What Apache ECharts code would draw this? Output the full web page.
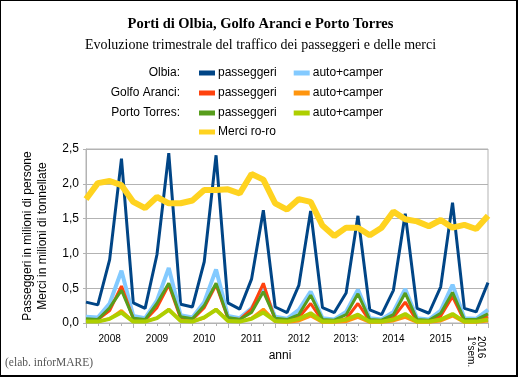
<!DOCTYPE html>
<html>
<head>
<meta charset="utf-8">
<script src="https://cdn.jsdelivr.net/npm/echarts@6/dist/echarts.min.js"></script>
<style>
  html, body { margin: 0; padding: 0; background: #fff; }
  #final { position: absolute; left: 0; top: 0; width: 521px; height: 377px; }
  #frame { position: absolute; left: 0; top: 0; width: 518px; height: 377px; box-sizing: border-box;
           border-left: 1px solid #000; border-top: 1px solid #000; border-right: 2px solid #000; border-bottom: 2px solid #000;
           pointer-events: none; }
</style>
</head>
<body>
<div id="final"></div>
<div id="frame"></div>
<script>
// trimestri: dal IV 2007 al II 2016
var quarters = ['2007-IV'];
['2008','2009','2010','2011','2012','2013','2014','2015'].forEach(function (y) {
  quarters.push(y + '-I', y + '-II', y + '-III', y + '-IV');
});
quarters.push('2016-I', '2016-II');

// etichette degli anni (posizione = centro del periodo sull'asse)
var yearLabels = {2: '2008', 6: '2009', 10: '2010', 14: '2011', 18: '2012', 22: '2013:', 26: '2014', 30: '2015'};
var lastLabel = '2016\n1°sem.';

var olbiaPax  = [0.30,0.26,0.91,2.36,0.29,0.21,0.98,2.44,0.27,0.23,0.88,2.41,0.29,0.20,0.63,1.62,0.23,0.15,0.54,1.61,0.22,0.15,0.43,1.54,0.19,0.12,0.47,1.57,0.21,0.14,0.52,1.73,0.21,0.16,0.58];
var olbiaAuto = [0.09,0.08,0.28,0.75,0.10,0.07,0.32,0.79,0.11,0.08,0.30,0.77,0.10,0.07,0.21,0.49,0.09,0.06,0.19,0.45,0.07,0.05,0.16,0.48,0.07,0.05,0.16,0.49,0.07,0.05,0.18,0.55,0.07,0.06,0.19];
var gaPax     = [0.05,0.05,0.18,0.53,0.06,0.04,0.22,0.55,0.07,0.05,0.22,0.55,0.07,0.05,0.20,0.57,0.04,0.03,0.08,0.28,0.03,0.02,0.06,0.28,0.03,0.02,0.08,0.30,0.03,0.02,0.10,0.38,0.03,0.03,0.09];
var gaAuto    = [0.02,0.02,0.06,0.18,0.02,0.02,0.07,0.20,0.03,0.02,0.07,0.20,0.03,0.02,0.07,0.20,0.02,0.01,0.03,0.10,0.01,0.01,0.02,0.08,0.01,0.01,0.03,0.08,0.01,0.01,0.03,0.10,0.01,0.01,0.03];
var ptPax     = [0.06,0.05,0.22,0.47,0.07,0.05,0.28,0.57,0.09,0.06,0.25,0.57,0.08,0.05,0.15,0.45,0.07,0.05,0.12,0.40,0.05,0.04,0.12,0.42,0.05,0.04,0.12,0.43,0.05,0.04,0.14,0.44,0.05,0.05,0.13];
var ptAuto    = [0.02,0.02,0.06,0.15,0.02,0.02,0.07,0.19,0.03,0.02,0.08,0.19,0.03,0.02,0.06,0.15,0.03,0.02,0.06,0.14,0.02,0.02,0.05,0.12,0.02,0.02,0.05,0.13,0.02,0.02,0.05,0.13,0.02,0.02,0.05];
var merciRoRo = [1.78,2.01,2.04,1.98,1.74,1.65,1.81,1.72,1.72,1.76,1.91,1.91,1.92,1.86,2.14,2.06,1.72,1.63,1.78,1.74,1.40,1.25,1.37,1.37,1.26,1.37,1.60,1.49,1.46,1.39,1.48,1.37,1.41,1.35,1.54];

var sans = 'Liberation Sans';
var serif = 'Liberation Serif';
var grey = '#b3b3b3';

var chartDom = document.getElementById('final');
var myChart = echarts.init(chartDom, null, {renderer: 'canvas'});
var option;

function mkLine(name, data, color, width) {
  return {
    name: name,
    type: 'line',
    xAxisIndex: 0,
    data: data,
    symbol: 'none',
    color: color,
    lineStyle: {color: color, width: width},
    emphasis: {disabled: true}
  };
}

var legendBase = {
  orient: 'horizontal',
  icon: 'rect',
  padding: 0,
  itemWidth: 16,
  itemHeight: 5,
  itemGap: 17,
  selectedMode: false,
  textStyle: {fontFamily: sans, fontSize: 12, color: '#000', padding: [0, 0, 0, -2]},
  formatter: function (n) { return n.split(': ')[1]; }
};

option = {
  animation: false,
  backgroundColor: '#fff',
  title: [
    {text: 'Porti di Olbia, Golfo Aranci e Porto Torres', left: 'center', top: 12,
     textStyle: {fontFamily: serif, fontSize: 14.5, fontWeight: 'bold', color: '#000'}},
    {text: 'Evoluzione trimestrale del traffico dei passeggeri e delle merci', left: 'center', top: 33,
     textStyle: {fontFamily: serif, fontSize: 14, fontWeight: 'normal', color: '#000'}}
  ],
  legend: [
    Object.assign({}, legendBase, {left: 199, top: 67, data: ['Olbia: passeggeri', 'Olbia: auto+camper']}),
    Object.assign({}, legendBase, {left: 199, top: 87, data: ['Golfo Aranci: passeggeri', 'Golfo Aranci: auto+camper']}),
    Object.assign({}, legendBase, {left: 199, top: 107, data: ['Porto Torres: passeggeri', 'Porto Torres: auto+camper']}),
    Object.assign({}, legendBase, {left: 199, top: 126, data: ['Merci: Merci ro-ro']})
  ],
  graphic: [
    {type: 'text', right: 341, top: 67, style: {text: 'Olbia:', font: '12px "Liberation Sans"', fill: '#000', align: 'right'}},
    {type: 'text', right: 341, top: 87, style: {text: 'Golfo Aranci:', font: '12px "Liberation Sans"', fill: '#000', align: 'right'}},
    {type: 'text', right: 341, top: 107, style: {text: 'Porto Torres:', font: '12px "Liberation Sans"', fill: '#000', align: 'right'}},
    {type: 'text', left: 5, top: 357, style: {text: '(elab. inforMARE)', font: '11.5px "Liberation Serif"', fill: '#555'}}
  ],
  grid: {
    left: 86, right: 33, top: 149, bottom: 54,
    outerBoundsMode: 'none',
    containLabel: false,
    show: true, borderColor: grey, borderWidth: 1, backgroundColor: 'transparent'
  },
  xAxis: [
    {
      type: 'category',
      position: 'bottom',
      data: quarters,
      boundaryGap: false,
      axisLine: {lineStyle: {color: grey}},
      axisTick: {interval: 0, length: 3, lineStyle: {color: grey}},
      axisLabel: {show: false},
      splitLine: {show: false},
      name: 'anni',
      nameLocation: 'middle',
      nameGap: 27,
      nameTextStyle: {fontFamily: sans, fontSize: 12, color: '#000', padding: [0, 14, 0, 0]}
    },
    {
      type: 'value', position: 'bottom', offset: 0, min: 0, max: 34, interval: 4,
      axisLine: {show: false},
      axisTick: {show: true, length: 5, lineStyle: {color: grey}},
      axisLabel: {show: false},
      splitLine: {show: false}
    },
    {
      type: 'value', position: 'bottom', offset: 0, min: 0, max: 34, interval: 1,
      axisLine: {show: false},
      axisTick: {show: false},
      splitLine: {show: false},
      axisLabel: {
        fontFamily: sans, fontSize: 10, color: '#000', margin: 11, hideOverlap: false,
        formatter: function (v) { return yearLabels[v] || ''; }
      }
    },
    {
      type: 'value', position: 'bottom', offset: 0, min: 0, max: 34, interval: 1,
      axisLine: {show: false},
      axisTick: {show: false},
      splitLine: {show: false},
      axisLabel: {
        fontFamily: sans, fontSize: 10, color: '#000', margin: 13, rotate: -90, lineHeight: 10,
        align: 'left', verticalAlign: 'middle',
        hideOverlap: false,
        formatter: function (v) { return v === 33 ? lastLabel : ''; }
      }
    }
  ],
  yAxis: {
    type: 'value',
    min: 0, max: 2.5, interval: 0.5,
    axisLine: {show: true, lineStyle: {color: grey}},
    axisTick: {show: true, length: 3, lineStyle: {color: grey}},
    splitLine: {lineStyle: {color: grey}},
    axisLabel: {
      fontFamily: sans, fontSize: 12, color: '#000', margin: 7,
      formatter: function (v) { return v.toFixed(1).replace('.', ','); }
    },
    name: 'Passeggeri in milioni di persone\nMerci in milioni di tonnellate',
    nameLocation: 'middle',
    nameGap: 36,
    nameTextStyle: {fontFamily: sans, fontSize: 12, color: '#000', lineHeight: 15}
  },
  series: [
    mkLine('Olbia: passeggeri', olbiaPax, '#004586', 3),
    mkLine('Olbia: auto+camper', olbiaAuto, '#83caff', 4),
    mkLine('Golfo Aranci: passeggeri', gaPax, '#ff420e', 3),
    mkLine('Golfo Aranci: auto+camper', gaAuto, '#ff950e', 3),
    mkLine('Porto Torres: passeggeri', ptPax, '#579d1c', 3),
    mkLine('Porto Torres: auto+camper', ptAuto, '#aecf00', 4),
    mkLine('Merci: Merci ro-ro', merciRoRo, '#ffd320', 6)
  ]
};
myChart.setOption(option);
</script>
</body>
</html>
